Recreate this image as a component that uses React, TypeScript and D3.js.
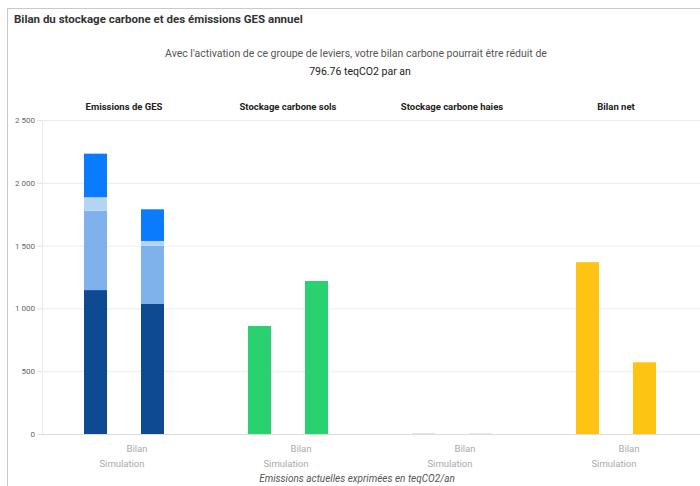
import React from 'react';
import * as d3 from 'd3';

// Facets and categories
const facets = ['Emissions de GES', 'Stockage carbone sols', 'Stockage carbone haies', 'Bilan net'];
const scenarios = ['Bilan', 'Simulation'];

// Emissions de GES, stacked by poste (bottom to top)
const emissionKeys = ['poste1', 'poste2', 'poste3', 'poste4'];
const emissionColors = ['#0d4a91', '#7fb2ea', '#b5d3f3', '#0a7bfd'];
const emissionsBilan = [1146, 632, 107, 347];
const emissionsSimulation = [1035, 464, 38, 252];

// Single-value facets
const stockageSols = [860, 1218];
const stockageHaies = [4, 3];
const bilanNet = [1368, 571];

const yTicks = [0, 500, 1000, 1500, 2000, 2500];

const facetColors: { [k: string]: string } = {
  'Stockage carbone sols': '#29d170',
  'Stockage carbone haies': '#c8c8c8',
  'Bilan net': '#fec414',
};

const W = 700;
const H = 486;
const FONT = 'Roboto, "Noto Sans", sans-serif';

const App: React.FC = () => {
  const y = d3.scaleLinear().domain([0, 2500]).range([434, 120]);
  const fx = d3.scaleBand<string>().domain(facets).range([42, 698]);
  const inner = d3
    .scaleBand<string>()
    .domain(scenarios)
    .range([0, fx.bandwidth()])
    .paddingInner(0.596)
    .paddingOuter(0.737);

  const fmt = (v: number) => d3.format(',')(v).replace(/,/g, ' ');

  // stacked emissions
  const stackRows = scenarios.map((s, i) => {
    const vals = i === 0 ? emissionsBilan : emissionsSimulation;
    const row: { [k: string]: any } = { scenario: s };
    emissionKeys.forEach((k, j) => (row[k] = vals[j]));
    return row;
  });
  const stacked = d3.stack<any>().keys(emissionKeys)(stackRows);

  const singles: { facet: string; values: number[] }[] = [
    { facet: 'Stockage carbone sols', values: stockageSols },
    { facet: 'Stockage carbone haies', values: stockageHaies },
    { facet: 'Bilan net', values: bilanNet },
  ];

  const x0 = fx(facets[0])!;

  return (
    <div style={{ position: 'absolute', left: 0, top: 0 }}>
      <svg width={W} height={H} style={{ display: 'block', fontFamily: FONT }}>
        <rect x={0} y={0} width={W} height={H} fill="#fff" />
        {/* card border */}
        <line x1={7} x2={W} y1={8.5} y2={8.5} stroke="#c9c9c9" />
        <line x1={7.5} x2={7.5} y1={8} y2={H} stroke="#c9c9c9" />

        <text x={14} y={23} fontSize={11.5} fontWeight={700} fill="#333">
          Bilan du stockage carbone et des émissions GES annuel
        </text>
        <text x={356} y={57} fontSize={10.5} fill="#555" textAnchor="middle">
          Avec l'activation de ce groupe de leviers, votre bilan carbone pourrait être réduit de
        </text>
        <text x={360} y={75} fontSize={10.5} fill="#222" textAnchor="middle">
          796.76 teqCO2 par an
        </text>

        {/* gridlines and y axis */}
        {yTicks.map(t => (
          <g key={t}>
            <line x1={x0} x2={W} y1={y(t) + 0.5} y2={y(t) + 0.5} stroke={t === 0 ? '#dcdcdc' : '#ececec'} />
            <line x1={x0 - 5} x2={x0} y1={y(t) + 0.5} y2={y(t) + 0.5} stroke="#e0e0e0" />
            <text x={35} y={y(t) + 3} fontSize={8} fill="#666" textAnchor="end">
              {fmt(t)}
            </text>
          </g>
        ))}
        <line x1={x0 + 0.5} x2={x0 + 0.5} y1={y(2500)} y2={y(0)} stroke="#ececec" />

        {/* facet titles */}
        {facets.map(f => (
          <text
            key={f}
            x={fx(f)! + fx.bandwidth() / 2}
            y={110}
            fontSize={9.5}
            fontWeight={700}
            fill="#222"
            textAnchor="middle"
          >
            {f}
          </text>
        ))}

        {/* stacked emissions bars */}
        {stacked.map((layer, li) => (
          <g key={layer.key} fill={emissionColors[li]}>
            {layer.map((d, i) => (
              <rect
                key={i}
                x={x0 + inner(scenarios[i])!}
                y={y(d[1])}
                width={inner.bandwidth()}
                height={y(d[0]) - y(d[1])}
              />
            ))}
          </g>
        ))}

        {/* single bars */}
        {singles.map(s => (
          <g key={s.facet} fill={facetColors[s.facet]}>
            {s.values.map((v, i) => (
              <rect
                key={i}
                x={fx(s.facet)! + inner(scenarios[i])!}
                y={y(v)}
                width={inner.bandwidth()}
                height={y(0) - y(v)}
              />
            ))}
          </g>
        ))}

        {/* x labels */}
        {facets.map(f => {
          const c = fx(f)! + fx.bandwidth() / 2;
          return (
            <g key={f} fontSize={9.5} fill="#aaa" textAnchor="middle">
              <text x={c + 13} y={452}>
                {scenarios[0]}
              </text>
              <text x={c - 2} y={467}>
                {scenarios[1]}
              </text>
            </g>
          );
        })}

        <text x={357} y={482} fontSize={10} fontStyle="italic" fill="#555" textAnchor="middle">
          Emissions actuelles exprimées en teqCO2/an
        </text>
      </svg>
    </div>
  );
};

export default App;
